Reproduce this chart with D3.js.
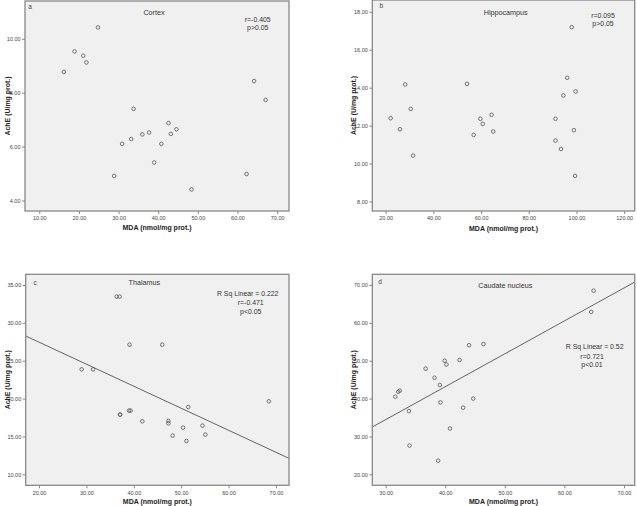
<!DOCTYPE html>
<html><head><meta charset="utf-8">
<script src="https://cdn.jsdelivr.net/npm/d3@7"></script>
<style>body{margin:0;background:#fff}svg{display:block}text{font-family:"Liberation Sans",Arial,sans-serif}</style>
</head><body>
<svg id="c" width="637" height="506"></svg>
<script>
// ---- data ----
const cortexMDA  = [24.8,18.9,21.1,21.9,16.2,33.8,64.2,67.1,42.6,44.6,37.7,36.0,43.2,33.2,30.9,40.8,39.0,28.9,48.4,62.3];
const cortexAchE = [10.42,9.53,9.37,9.12,8.77,7.40,8.43,7.73,6.87,6.64,6.52,6.45,6.47,6.28,6.10,6.10,5.41,4.91,4.41,4.98];
const hippoMDA  = [22.1,26.0,28.2,30.5,31.5,54.1,56.9,59.7,60.7,64.4,65.1,91.2,91.2,93.5,94.5,96.1,98.0,99.6,98.9,99.4];
const hippoAchE = [12.39,11.81,14.17,12.88,10.42,14.20,11.51,12.36,12.09,12.57,11.69,12.36,11.21,10.77,13.59,14.52,17.19,13.80,11.76,9.35];
const thalMDA  = [36.4,37.0,39.1,46.0,29.0,31.4,37.1,37.1,39.0,39.3,41.8,47.3,47.3,51.5,48.2,50.4,51.1,54.5,55.1,68.5];
const thalAchE = [33.46,33.46,27.12,27.12,23.86,23.86,17.88,17.88,18.41,18.41,17.0,17.04,16.73,18.89,15.11,16.16,14.40,16.43,15.24,19.64];
const caudMDA  = [64.9,64.5,46.4,44.0,39.9,42.4,40.2,36.7,38.2,39.1,32.35,32.1,31.6,44.7,39.2,43.0,33.9,40.8,34.0,38.8];
const caudAchE = [68.5,62.9,54.4,54.1,50.0,50.2,49.0,47.9,45.5,43.6,42.1,41.8,40.5,40.0,39.0,37.6,36.7,32.1,27.6,23.6];
// linear fit [intercept, slope]
const thalFit = [33.27, -0.2909];
const caudFit = [8.38, 0.869];
// tick values
const cortexXTicks = [10,20,30,40,50,60,70], cortexYTicks = [4,6,8,10];
const hippoXTicks = [20,40,60,80,100,120], hippoYTicks = [8,10,12,14,16,18];
const thalXTicks = [20,30,40,50,60,70], thalYTicks = [10,15,20,25,30,35];
const caudXTicks = [30,40,50,60,70], caudYTicks = [20,30,40,50,60,70];
// titles / annotations
const titles = ["Cortex","Hippocampus","Thalamus","Caudate nucleus"];
const letters = ["a","b","c","d"];
const notes = [["r=-0.405","p>0.05"],["r=0.095","p>0.05"],["R Sq Linear = 0.222","r=-0.471","p<0.05"],["R Sq Linear = 0.52","r=0.721","p<0.01"]];

// ---- layout ----
const panels = [
 {x:cortexMDA,y:cortexAchE,xt:cortexXTicks,yt:cortexYTicks,xd:[6.4,73.0],yd:[3.61,11.4],L:25,R:289,T:1,B:211,
  title:[154,15],letter:[30,9],note:[[257.7,22.3],[257.7,30]],ylab:5,xlab:230},
 {x:hippoMDA,y:hippoAchE,xt:hippoXTicks,yt:hippoYTicks,xd:[14.4,124.4],yd:[7.5,18.62],L:372.3,R:634.7,T:0,B:211,
  title:[505.7,14.5],letter:[381.3,7.5],note:[[603,17.8],[603,25.5]],ylab:351,xlab:231},
 {x:thalMDA,y:thalAchE,xt:thalXTicks,yt:thalYTicks,xd:[17.19,72.75],yd:[8.55,36.41],L:25.7,R:289,T:274.3,B:485.3,fit:thalFit,
  title:[144.3,285],letter:[35,284.5],note:[[247.7,295.5],[250.7,305],[250.7,313.8]],ylab:5,xlab:504},
 {x:caudMDA,y:caudAchE,xt:caudXTicks,yt:caudYTicks,xd:[27.75,71.8],yd:[17.1,72.83],L:372.3,R:634.7,T:274.3,B:485.3,fit:caudFit,
  title:[505.3,288],letter:[380,283.5],note:[[594.7,349],[592,359],[592,366.7]],ylab:351,xlab:504}
];

const svg = d3.select("#c");
const fmt = d3.format(".2f");
panels.forEach((p,i)=>{
  const xs = d3.scaleLinear().domain(p.xd).range([p.L,p.R]);
  const ys = d3.scaleLinear().domain(p.yd).range([p.B,p.T]);
  const g = svg.append("g");
  g.append("rect").attr("x",p.L).attr("y",p.T).attr("width",p.R-p.L).attr("height",p.B-p.T)
    .attr("fill","#f0f0f0");
  const cid = "clip"+i;
  svg.append("clipPath").attr("id",cid).append("rect").attr("x",p.L).attr("y",p.T).attr("width",p.R-p.L).attr("height",p.B-p.T);
  const xa = g.append("g").attr("transform",`translate(0,${p.B})`)
    .call(d3.axisBottom(xs).tickValues(p.xt).tickFormat(fmt).tickSize(3).tickPadding(2.5));
  const ya = g.append("g").attr("transform",`translate(${p.L},0)`)
    .call(d3.axisLeft(ys).tickValues(p.yt).tickFormat(fmt).tickSize(3).tickPadding(1.5));
  [xa,ya].forEach(a=>{
    a.select(".domain").remove();
    a.selectAll("line").attr("stroke","#666").attr("stroke-width",0.8);
    a.selectAll("text").attr("font-size",5.5).attr("fill","#444");
  });
  if(p.fit){
    const x0=p.xd[0], x1=p.xd[1];
    g.append("line").attr("clip-path",`url(#${cid})`)
      .attr("x1",xs(x0)).attr("y1",ys(p.fit[0]+p.fit[1]*x0))
      .attr("x2",xs(x1)).attr("y2",ys(p.fit[0]+p.fit[1]*x1))
      .attr("stroke","#555").attr("stroke-width",0.9);
  }
  g.append("g").selectAll("circle").data(p.x.map((v,k)=>[v,p.y[k]])).join("circle")
    .attr("cx",d=>xs(d[0])).attr("cy",d=>ys(d[1])).attr("r",1.8)
    .attr("fill","none").attr("stroke","#555").attr("stroke-width",0.8);
  g.append("rect").attr("x",p.L).attr("y",p.T).attr("width",p.R-p.L).attr("height",p.B-p.T)
    .attr("fill","none").attr("stroke","#888").attr("stroke-width",1.3);
  g.append("text").attr("x",p.title[0]).attr("y",p.title[1]).attr("text-anchor","middle")
    .attr("font-size",7.2).attr("fill","#333").text(titles[i]);
  g.append("text").attr("x",p.letter[0]).attr("y",p.letter[1]).attr("text-anchor","middle")
    .attr("font-size",6.5).attr("fill","#444").text(letters[i]);
  notes[i].forEach((t,k)=>{
    g.append("text").attr("x",p.note[k][0]).attr("y",p.note[k][1]).attr("text-anchor","middle")
      .attr("font-size",6.9).attr("fill","#333").text(t);
  });
  const cy=(p.T+p.B)/2, cx=(p.L+p.R)/2;
  g.append("text").attr("x",cx).attr("y",p.xlab).attr("text-anchor","middle")
    .attr("font-size",7).attr("font-weight","bold").attr("fill","#222")
    .attr("textLength",69).attr("lengthAdjust","spacingAndGlyphs").text("MDA (nmol/mg prot.)");
  g.append("text").attr("transform",`translate(${p.ylab+2.5},${cy}) rotate(-90)`).attr("text-anchor","middle")
    .attr("dy","0.35em").attr("font-size",7).attr("font-weight","bold").attr("fill","#222")
    .attr("textLength",59).attr("lengthAdjust","spacingAndGlyphs").text("AchE (U/mg prot.)");
});
</script>
</body></html>
